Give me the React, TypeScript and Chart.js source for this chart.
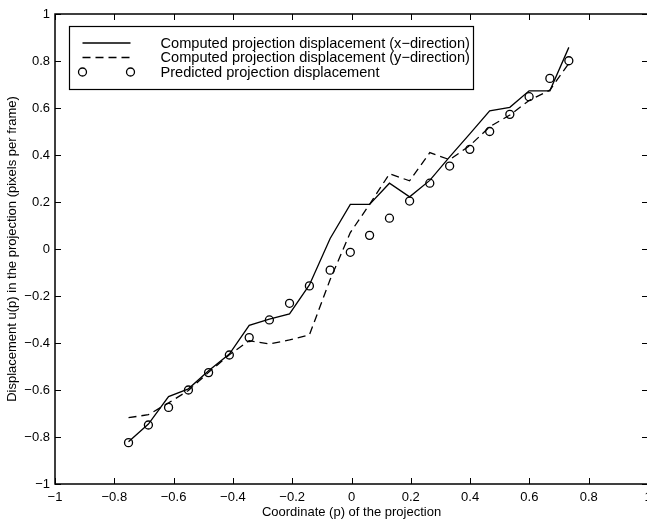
import React, { useEffect, useRef } from "react";
import { Chart, registerables } from "chart.js";

Chart.register(...registerables);

// Coordinate (p) of the projection, sample positions
const pCoord = [
  -0.752, -0.685, -0.617, -0.55, -0.482, -0.412, -0.345, -0.277, -0.209, -0.142,
  -0.072, -0.004, 0.061, 0.128, 0.196, 0.264, 0.331, 0.399, 0.466, 0.534, 0.599,
  0.669, 0.733,
];

// Computed projection displacement (x-direction)  (solid)
const computedX = [
  -0.82, -0.745, -0.628, -0.595, -0.518, -0.447, -0.325, -0.298, -0.276, -0.153,
  0.045, 0.19, 0.19, 0.28, 0.222, 0.292, 0.392, 0.49, 0.588, 0.603, 0.673, 0.673,
  0.858,
];

// Computed projection displacement (y-direction)  (dashed)
const computedY = [
  -0.718, -0.705, -0.655, -0.602, -0.525, -0.45, -0.39, -0.404, -0.387, -0.366,
  -0.13, 0.07, 0.19, 0.32, 0.29, 0.41, 0.38, 0.44, 0.52, 0.57, 0.632, 0.676, 0.79,
];

// Predicted projection displacement  (circles)
const predicted = [
  -0.824, -0.749, -0.674, -0.6, -0.526, -0.451, -0.377, -0.302, -0.231, -0.157,
  -0.09, -0.014, 0.058, 0.131, 0.204, 0.28, 0.353, 0.424, 0.5, 0.573, 0.648, 0.726,
  0.801,
];

const seriesLabels = [
  "Computed projection displacement (x\u2212direction)",
  "Computed projection displacement (y\u2212direction)",
  "Predicted projection displacement",
];

const xTitle = "Coordinate (p) of the projection";
const yTitle = "Displacement u(p) in the projection (pixels per frame)";

const axisMin = -1;
const axisMax = 1;
const axisStep = 0.2;

const FONT = "'Liberation Sans', Arial, Helvetica, sans-serif";

function fmt(v: number): string {
  const r = Math.round(v * 10) / 10;
  if (r === 0) return "0";
  const s = Math.abs(r).toString();
  return r < 0 ? "\u2212" + s : s;
}

function toPoints(ys: number[]) {
  return pCoord.map((x, i) => ({ x, y: ys[i] }));
}

const framePlugin = {
  id: "matlabFrame",
  afterDatasetsDraw(chart: any) {
    const { ctx, chartArea, scales } = chart;
    const { left, right, top, bottom } = chartArea;
    const xs = scales.x;
    const ys = scales.y;
    ctx.save();
    ctx.strokeStyle = "#000";
    ctx.setLineDash([]);
    // inward ticks on all four sides
    const tl = 6;
    ctx.lineWidth = 1;
    ctx.beginPath();
    xs.ticks.forEach((t: any) => {
      const px = Math.round(xs.getPixelForValue(t.value)) + 0.5;
      ctx.moveTo(px, bottom);
      ctx.lineTo(px, bottom - tl);
      ctx.moveTo(px, top);
      ctx.lineTo(px, top + tl);
    });
    ys.ticks.forEach((t: any) => {
      const py = Math.round(ys.getPixelForValue(t.value)) + 0.5;
      ctx.moveTo(left, py);
      ctx.lineTo(left + tl, py);
      ctx.moveTo(right, py);
      ctx.lineTo(right - tl, py);
    });
    ctx.stroke();
    // box
    ctx.lineWidth = 1.5;
    ctx.strokeRect(left, top, right - left, bottom - top);

    // legend
    const lx = left + 14.5;
    const ly = top + 12.5;
    const lw = 404;
    const lh = 63;
    ctx.fillStyle = "#fff";
    ctx.fillRect(lx, ly, lw, lh);
    ctx.lineWidth = 1.2;
    ctx.strokeRect(lx, ly, lw, lh);
    const rows = [ly + 16.5, ly + 31, ly + 45.5];
    const s0 = lx + 13;
    const s1 = lx + 61;
    const textX = lx + 91;
    const datasets = chart.data.datasets;
    ctx.font = `14.6px ${FONT}`;
    ctx.textBaseline = "middle";
    ctx.textAlign = "left";
    datasets.forEach((ds: any, i: number) => {
      const ry = rows[i];
      ctx.strokeStyle = "#000";
      if (ds.showLine) {
        ctx.lineWidth = ds.borderWidth;
        ctx.setLineDash(ds.borderDash || []);
        ctx.beginPath();
        ctx.moveTo(s0, ry);
        ctx.lineTo(s1, ry);
        ctx.stroke();
        ctx.setLineDash([]);
      } else {
        ctx.lineWidth = ds.pointBorderWidth;
        [s0, s1].forEach((cx) => {
          ctx.beginPath();
          ctx.arc(cx, ry, ds.pointRadius, 0, Math.PI * 2);
          ctx.stroke();
        });
      }
      ctx.fillStyle = "#000";
      ctx.fillText(ds.label, textX, ry + 0.5);
    });
    ctx.restore();
  },
};

export default function App() {
  const canvasRef = useRef<HTMLCanvasElement | null>(null);

  useEffect(() => {
    document.body.style.margin = "0";
    document.body.style.overflow = "hidden";
    const canvas = canvasRef.current;
    if (!canvas) return;
    const chart = new Chart(canvas, {
      type: "scatter",
      data: {
        datasets: [
          {
            label: seriesLabels[0],
            data: toPoints(computedX),
            showLine: true,
            borderColor: "#000",
            borderWidth: 1.3,
            pointRadius: 0,
            tension: 0,
            fill: false,
          },
          {
            label: seriesLabels[1],
            data: toPoints(computedY),
            showLine: true,
            borderColor: "#000",
            borderWidth: 1.3,
            borderDash: [8, 5],
            pointRadius: 0,
            tension: 0,
            fill: false,
          },
          {
            label: seriesLabels[2],
            data: toPoints(predicted),
            showLine: false,
            pointStyle: "circle",
            pointRadius: 4,
            pointBorderWidth: 1.3,
            pointBorderColor: "#000",
            pointBackgroundColor: "rgba(0,0,0,0)",
          },
        ],
      } as any,
      options: {
        responsive: false,
        animation: false,
        layout: { padding: { left: 0, right: 12, top: 14, bottom: 0 } },
        plugins: {
          legend: { display: false },
          tooltip: { enabled: false },
        },
        scales: {
          x: {
            type: "linear",
            min: axisMin,
            max: axisMax,
            grid: { display: false, drawTicks: false },
            border: { display: false },
            ticks: {
              stepSize: axisStep,
              autoSkip: false,
              maxRotation: 0,
              padding: 6,
              color: "#000",
              font: { family: FONT, size: 13 },
              callback: (v: any) => fmt(Number(v)),
            },
            title: {
              display: true,
              text: xTitle,
              color: "#000",
              font: { family: FONT, size: 13 },
              padding: { top: 0, bottom: 1 },
            },
            afterFit: (s: any) => {
              s.height = 37;
            },
          },
          y: {
            type: "linear",
            min: axisMin,
            max: axisMax,
            grid: { display: false, drawTicks: false },
            border: { display: false },
            ticks: {
              stepSize: axisStep,
              autoSkip: false,
              padding: 5,
              color: "#000",
              font: { family: FONT, size: 13 },
              callback: (v: any) => fmt(Number(v)),
            },
            title: {
              display: true,
              text: yTitle,
              color: "#000",
              font: { family: FONT, size: 13 },
              padding: { top: 5, bottom: 0 },
            },
            afterFit: (s: any) => {
              s.width = 55;
            },
          },
        },
      } as any,
      plugins: [framePlugin],
    });
    return () => chart.destroy();
  }, []);

  return (
    <div style={{ width: 647, height: 521, overflow: "hidden", position: "relative", background: "#fff" }}>
      <canvas ref={canvasRef} width={660} height={521} style={{ width: 660, height: 521, display: "block" }} />
    </div>
  );
}
